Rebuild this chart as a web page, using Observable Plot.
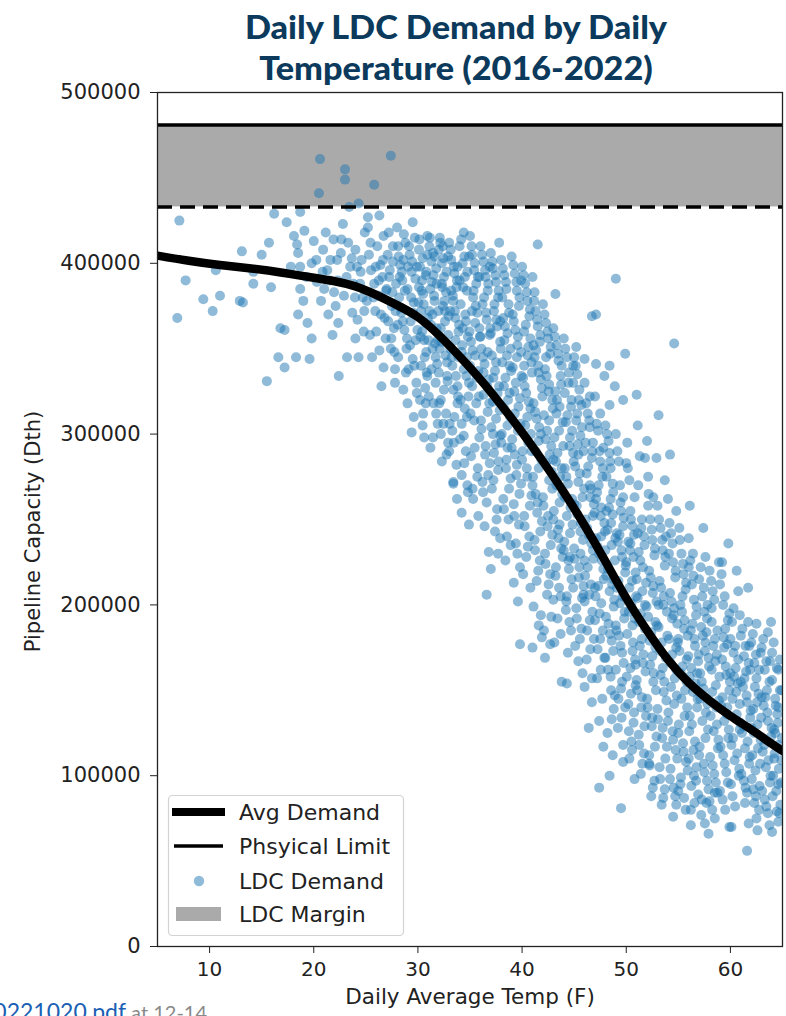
<!DOCTYPE html>
<html><head><meta charset="utf-8">
<script src="https://cdn.jsdelivr.net/npm/d3@7"></script>
<script src="https://cdn.jsdelivr.net/npm/@observablehq/plot@0.6"></script>
<style>
body{margin:0;background:#fff;width:786px;height:1016px;overflow:hidden;position:relative;font-family:"DejaVu Sans",sans-serif}
#title{position:absolute;left:0;top:6px;width:912px;text-align:center;font-family:Lato,"Open Sans",sans-serif;font-weight:900;font-size:32px;line-height:41px;color:#0b3a5c;transform:scaleX(1.07);transform-origin:456px 0}
#chart{position:absolute;left:0;top:80px}
#caption{position:absolute;left:-20px;top:997px;font-family:Lato,sans-serif;font-size:20px;white-space:nowrap;color:#8a8a8a}
#caption .lnk{color:#1a5fb4;font-size:23px}
</style></head><body>
<div id="title">Daily LDC Demand by Daily<br>Temperature (2016-2022)</div>
<div id="chart"></div>
<div id="caption"><span class="lnk">20221020.pdf</span> at 12-14</div>
<script>
// ---- data (temperature °F, demand in thousand Dth) ----
const xTicks = [10, 20, 30, 40, 50, 60];
const yTicks = [0, 100000, 200000, 300000, 400000, 500000];
const xDomain = [5, 65];
const yDomain = [0, 500000];
const physicalLimit = 481000;
const marginFloor = 433000;

const avgDemand = [[5,404.5],[8,401.5],[11,399],[14,397],[17,394.5],[20,391.5],[22,389.5],[24,386.5],[26,381.5],[28,375.5],[30,368.5],[32,358],[34,345.5],[36,332],[38,317],[40,301],[42,284],[44,266],[46,246.5],[48,225.5],[50,204],[52,185],[54,168],[56,154.5],[58,144],[60,135],[62,127],[64,118.5],[65,114.5]];

const ptsCold = [[7.1,425],[6.9,368],[7.7,390],[9.4,379],[10.3,372],[10.6,396],[11.0,381],[13.1,407],[13.2,377],[12.9,378],[14.2,395],[14.2,388],[15.0,405],[15.5,331],[16.2,429],[15.7,412],[16.8,362],[17.2,361],[17.2,339],[17.4,424],[16.6,345],[15.9,386],
[18.1,416],[18.7,430],[18.4,411],[18.5,406],[18.7,398],[18.7,385],[18.5,370],[19.4,365],[18.3,345],[19.6,344],[19.1,419],[20.0,413],[19.3,392],[19.8,400],[17.8,398],[19.0,378],[20.3,389],[19.8,356]];

const pts20s = [[20.6,461],[23.0,455],[23.0,449],[20.5,441],[25.8,446],[27.4,463],[24.3,435],[23.4,433],
[20.9,408],[21.3,396],[21.0,385],[21.8,358],[22.4,334],[22.8,423],[22.6,406],[22.3,390],[22.1,375],[21.6,402],[23.2,345],[23.5,398],[23.8,388],[23.3,412],[24.0,408],[24.3,345],[24.5,395],[24.7,380],[24.2,367],[24.9,418],[24.6,402],[23.7,371],[22.9,381],[21.4,370],[20.7,378],[21.9,414],[24.0,356],[24.8,360],
[25.2,427],[25.2,421],[26.3,428],[26.7,416],[27.6,410],[28.0,421],[28.6,402],[29.5,424],[25.6,345],[26.3,349],[26.7,339],[27.8,338],[26.5,328],[27.8,330],[29.1,338],[29.4,301],[29.9,324],
[25.3,405],[25.5,396],[25.8,388],[25.1,378],[25.9,372],[26.1,410],[26.4,399],[26.6,392],[26.2,381],[26.8,368],[26.9,356],[27.1,405],[27.3,396],[27.0,385],[27.5,375],[27.7,362],[27.4,350],[27.2,418],[28.1,410],[28.3,399],[28.5,390],[28.2,380],[28.4,371],[28.7,361],[28.9,350],[28.1,345],[28.8,412],[29.2,405],[29.4,395],[29.0,385],[29.6,377],[29.3,366],[29.8,355],[29.5,344],[29.7,415],[29.9,398],[28.6,326],[29.0,318],[29.6,310],[27.9,388],[26.0,360],[25.4,358],[27.6,401],
[20.25,402],[20.85,395],[21.15,418],[21.55,390],[21.95,383],[22.25,402],[22.65,414],[22.35,365],[23.15,392],[23.65,403],[23.95,380],[24.45,388],[24.15,398],[24.85,372],[25.45,412],[25.75,380],[25.95,398],[26.25,390],[26.65,402],[26.45,370],[26.95,384],[27.25,392],[27.55,383],[27.85,372],[27.15,366],[27.45,356],[27.75,348]];

const pts30s = [[30.9,416],[32.1,415],[34.4,418],[30.3,340],[31.7,345],[30.6,298],[32.2,300],[32.3,284],[33.4,272],[34.2,276],[30.9,334],[32.2,320],[32.8,334],[33.8,328],[34.7,310],[33.3,302],[34.4,299],[34.9,247],[34.2,254],[33.4,271],
[30.1,408],[30.2,398],[30.4,390],[30.5,382],[30.3,372],[30.7,365],[30.6,355],[30.8,348],[30.2,320],[30.5,312],[30.9,405],[30.8,395],[30.1,386],[30.4,360],[30.7,327],
[31.1,410],[31.3,401],[31.5,393],[31.2,385],[31.6,378],[31.4,370],[31.8,362],[31.0,355],[31.3,338],[31.7,330],[31.5,318],[31.9,306],[31.2,292],[31.6,404],[31.8,388],[31.1,372],[31.4,350],[31.9,355],
[32.0,408],[32.3,400],[32.5,392],[32.7,383],[32.4,375],[32.6,366],[32.9,358],[32.1,350],[32.8,342],[32.5,326],[32.7,312],[32.9,295],[32.4,410],[32.6,372],[32.2,362],[32.9,404],[32.0,336],[32.3,388],
[33.0,412],[33.2,402],[33.5,394],[33.7,386],[33.4,378],[33.6,368],[33.9,360],[33.1,350],[33.3,340],[33.8,318],[33.5,310],[33.0,290],[33.7,282],[33.2,384],[33.6,355],[33.9,345],[33.1,372],[33.4,326],[33.8,398],
[34.0,410],[34.3,400],[34.5,392],[34.7,384],[34.1,376],[34.6,366],[34.8,357],[34.2,348],[34.4,338],[34.9,330],[34.1,320],[34.6,290],[34.8,266],[34.3,362],[34.7,345],[34.0,390],[34.9,404],[34.5,315],[34.2,306],
[36.6,206],[37.0,221],[37.7,230],[39.2,213],[39.6,202],[37.9,239],[38.9,235],[39.8,177],
[35.0,416],[35.2,405],[35.4,396],[35.6,388],[35.3,380],[35.7,371],[35.9,362],[35.1,354],[35.5,346],[35.8,337],[35.2,328],[35.6,318],[35.4,308],[35.9,298],[35.1,287],[35.7,275],[35.3,262],[35.8,252],[35.5,365],[35.0,340],[35.9,392],[35.2,372],
[36.0,410],[36.3,401],[36.5,392],[36.7,384],[36.2,376],[36.6,367],[36.9,358],[36.1,350],[36.4,341],[36.8,332],[36.3,323],[36.7,313],[36.1,303],[36.5,293],[36.9,283],[36.2,272],[36.6,260],[36.4,246],[36.8,231],[36.0,357],[36.9,398],[36.3,336],[36.7,348],
[37.0,406],[37.2,397],[37.5,389],[37.7,380],[37.3,372],[37.6,363],[37.9,354],[37.1,346],[37.4,337],[37.8,328],[37.2,319],[37.5,309],[37.9,299],[37.3,289],[37.7,279],[37.1,268],[37.6,256],[37.4,243],[37.8,412],[37.0,359],[37.5,342],[37.9,366],[37.2,300],
[38.0,402],[38.3,393],[38.5,385],[38.7,376],[38.2,368],[38.6,359],[38.9,350],[38.1,342],[38.4,333],[38.8,324],[38.3,315],[38.6,305],[38.0,295],[38.5,285],[38.9,274],[38.2,262],[38.7,250],[38.4,226],[38.1,380],[38.8,340],[38.3,355],[38.6,292],
[39.0,404],[39.3,394],[39.5,384],[39.7,375],[39.2,366],[39.6,357],[39.9,348],[39.1,339],[39.4,330],[39.8,321],[39.3,312],[39.6,302],[39.0,292],[39.5,282],[39.9,271],[39.2,259],[39.7,247],[39.4,236],[39.8,222],[39.1,370],[39.5,345],[39.9,390],[39.3,288]];

const pts40s = [[41.0,175],[42.2,169],[42.7,177],[43.8,155],[44.3,154],[41.6,188],[41.9,181],[43.7,183],[45.4,167],[41.8,194],[40.8,210],[41.1,199],[43.0,203],[44.3,205],[45.9,206],[41.2,383],[43.2,382],[45.2,351],[44.9,330],[44.1,324],[41.5,411],
[40.0,398],[40.3,388],[40.5,378],[40.7,369],[40.2,360],[40.6,351],[40.9,342],[40.1,333],[40.4,324],[40.8,315],[40.3,305],[40.6,295],[40.0,285],[40.5,275],[40.9,264],[40.2,252],[40.7,240],[40.4,228],[40.1,218],[40.8,356],[40.5,310],[40.2,340],[40.9,290],
[41.0,392],[41.3,372],[41.5,363],[41.7,354],[41.2,345],[41.6,336],[41.9,327],[41.1,318],[41.4,309],[41.8,300],[41.3,290],[41.6,280],[41.0,270],[41.5,260],[41.9,249],[41.2,238],[41.7,226],[41.4,214],[41.8,332],[41.1,352],[41.6,296],[41.3,265],
[42.0,376],[42.3,365],[42.5,356],[42.7,347],[42.2,338],[42.6,329],[42.9,320],[42.1,311],[42.4,302],[42.8,293],[42.3,283],[42.6,273],[42.0,263],[42.5,252],[42.9,241],[42.2,230],[42.7,218],[42.4,206],[42.8,193],[42.1,185],[42.6,308],[42.3,345],[42.9,268],
[43.0,362],[43.3,352],[43.5,343],[43.7,334],[43.2,325],[43.6,316],[43.9,307],[43.1,298],[43.4,289],[43.8,280],[43.3,270],[43.6,260],[43.0,250],[43.5,239],[43.9,228],[43.2,217],[43.7,205],[43.4,192],[43.1,178],[43.8,340],[43.0,285],[43.6,247],[43.3,312],
[44.0,356],[44.3,345],[44.5,336],[44.7,316],[44.2,307],[44.6,298],[44.9,289],[44.1,280],[44.4,271],[44.8,262],[44.3,252],[44.6,242],[44.0,232],[44.5,221],[44.9,210],[44.2,197],[44.7,185],[44.4,172],[44.8,302],[44.1,263],[44.6,228],[44.9,340],
[49.0,391],[47.1,370],[46.7,369],[46.0,344],[47.1,341],[48.4,340],[47.9,334],[48.9,328],[46.5,322],[48.4,317],[47.5,312],[49.9,347],[49.7,320],[48.4,289],[47.8,292],[46.8,295],[48.1,275],[48.7,271],[49.7,263],[50.0,283],[50.3,273],[46.0,152],[46.7,157],[49.7,108],[47.4,93],[49.5,81],[48.8,139],[48.6,133],
[45.0,345],[45.3,335],[45.5,326],[45.7,317],[45.2,308],[45.6,299],[45.9,290],[45.1,281],[45.4,272],[45.8,263],[45.3,253],[45.6,243],[45.0,233],[45.5,222],[45.9,211],[45.2,198],[45.7,186],[45.1,176],[45.8,160],[45.4,288],[45.0,259],[45.6,230],[45.3,312],
[46.0,330],[46.3,312],[46.5,304],[46.7,286],[46.2,277],[46.6,268],[46.9,259],[46.1,250],[46.4,241],[46.8,232],[46.3,222],[46.6,212],[46.0,202],[46.5,191],[46.9,180],[46.2,168],[46.7,143],[46.4,128],[46.8,252],[46.1,295],[46.5,270],[46.0,226],
[47.0,322],[47.3,302],[47.5,284],[47.7,275],[47.2,266],[47.6,257],[47.9,248],[47.1,239],[47.4,230],[47.8,221],[47.3,211],[47.6,201],[47.0,191],[47.5,180],[47.9,169],[47.2,157],[47.7,145],[47.4,132],[47.8,117],[47.1,262],[47.6,240],[47.0,210],
[48.0,305],[48.3,296],[48.5,262],[48.7,253],[48.2,244],[48.6,235],[48.9,226],[48.1,217],[48.4,208],[48.8,199],[48.3,189],[48.6,179],[48.0,169],[48.5,158],[48.9,147],[48.2,125],[48.7,112],[48.4,100],[48.1,255],[48.8,215],[48.5,280],[48.0,232],
[49.0,300],[49.3,284],[49.5,255],[49.7,246],[49.2,237],[49.6,228],[49.9,219],[49.1,210],[49.4,201],[49.8,192],[49.3,182],[49.6,172],[49.0,162],[49.5,151],[49.9,140],[49.2,128],[49.7,118],[49.1,242],[49.8,205],[49.4,270],[49.0,188],[49.6,155]];

const pts50s = [[51.0,323],[53.1,311],[54.2,288],[54.6,353],[51.8,286],[51.3,287],[52.1,275],[52.6,263],[50.8,263],[52.2,107],[54.5,76],[55.0,91],[54.8,83],[52.9,286],[53.7,273],
[50.1,295],[50.4,255],[50.6,246],[50.2,237],[50.7,228],[50.9,219],[50.3,210],[50.5,201],[50.8,192],[50.1,183],[50.6,173],[50.4,163],[50.9,153],[50.2,142],[50.7,131],[50.5,120],[50.3,110],[50.8,98],[50.0,225],[50.6,188],[50.4,236],[50.9,165],
[51.1,305],[51.5,250],[51.7,240],[51.2,231],[51.6,222],[51.9,213],[51.1,204],[51.4,195],[51.8,186],[51.3,176],[51.6,166],[51.0,156],[51.5,146],[51.9,135],[51.2,124],[51.7,113],[51.4,101],[51.1,242],[51.8,200],[51.5,180],[51.0,215],
[52.0,296],[52.3,250],[52.5,238],[52.7,229],[52.2,220],[52.6,211],[52.9,202],[52.1,193],[52.4,184],[52.8,175],[52.3,165],[52.6,155],[52.0,145],[52.5,134],[52.9,123],[52.2,112],[52.7,97],[52.4,88],[52.1,258],[52.8,190],[52.5,170],
[53.0,258],[53.3,245],[53.5,232],[53.7,223],[53.2,214],[53.6,205],[53.9,196],[53.1,187],[53.4,178],[53.8,169],[53.3,159],[53.6,149],[53.0,139],[53.5,128],[53.9,117],[53.2,105],[53.7,92],[53.4,83],[53.8,240],[53.1,200],[53.5,163],
[54.0,262],[54.3,242],[54.5,225],[54.7,216],[54.2,207],[54.6,198],[54.9,189],[54.1,180],[54.4,171],[54.8,162],[54.3,152],[54.6,142],[54.0,132],[54.5,121],[54.9,110],[54.2,98],[54.7,88],[54.1,230],[54.8,175],[54.4,192],
[56.2,71],[57.9,66],[56.7,97],[57.7,84],[58.5,90],[58.2,190],[57.7,184],[59.9,195],[59.8,236],[57.6,228],[56.0,239],[54.8,255],[56.1,258],
[55.1,245],[55.3,230],[55.5,218],[55.7,209],[55.2,200],[55.6,191],[55.9,182],[55.1,173],[55.4,164],[55.8,155],[55.3,145],[55.6,135],[55.0,125],[55.5,114],[55.9,103],[55.2,95],[55.7,80],[55.4,205],[55.0,180],[55.8,168],
[56.0,222],[56.3,212],[56.5,203],[56.7,194],[56.2,185],[56.6,176],[56.9,167],[56.1,158],[56.4,149],[56.8,140],[56.3,130],[56.6,120],[56.0,110],[56.5,100],[56.9,89],[56.2,80],[56.4,230],[56.8,160],[56.1,135],
[57.0,215],[57.3,205],[57.5,196],[57.2,187],[57.6,178],[57.9,169],[57.1,160],[57.4,151],[57.8,142],[57.3,132],[57.6,122],[57.0,112],[57.5,102],[57.9,92],[57.2,77],[57.4,245],[57.8,200],[57.1,145],
[58.0,220],[58.3,208],[58.5,180],[58.7,171],[58.2,162],[58.6,153],[58.9,144],[58.1,135],[58.4,126],[58.8,116],[58.3,106],[58.6,96],[58.0,85],[58.5,75],[58.9,225],[58.2,198],[58.7,130],
[59.0,212],[59.3,200],[59.5,186],[59.7,177],[59.2,168],[59.6,159],[59.9,150],[59.1,141],[59.4,132],[59.8,122],[59.3,112],[59.6,102],[59.0,91],[59.5,80],[59.9,70],[59.2,225],[59.7,140],[59.4,175]];

const pts60s = [[61.6,56],[60.1,70],[62.5,75],[64.0,67],[60.2,88],[61.4,84],[64.7,78],[64.6,73],[64.6,95],[62.2,92],[63.8,167],[64.0,156],[63.6,184],[64.6,162],[62.5,189],[61.8,176],[61.7,190],[60.9,194],[61.7,210],
[60.0,180],[60.3,172],[60.5,163],[60.7,154],[60.2,145],[60.6,136],[60.9,127],[60.1,118],[60.4,109],[60.8,100],[60.3,198],[60.6,220],[60.0,160],[60.9,142],
[61.0,182],[61.3,170],[61.5,161],[61.2,152],[61.6,143],[61.9,134],[61.1,125],[61.4,116],[61.8,107],[61.3,97],[61.6,90],[61.0,155],[61.9,162],
[62.0,178],[62.3,166],[62.5,157],[62.7,148],[62.2,139],[62.6,130],[62.9,121],[62.1,112],[62.4,103],[62.8,94],[62.3,84],[62.6,68],[62.9,172],[62.0,128],
[63.0,175],[63.3,162],[63.5,150],[63.2,141],[63.6,132],[63.9,123],[63.1,114],[63.4,105],[63.8,96],[63.3,86],[63.6,78],[63.0,146],[63.9,190],
[64.0,172],[64.3,145],[64.5,136],[64.2,127],[64.6,118],[64.9,109],[64.1,100],[64.4,91],[64.8,83],[64.3,125],[64.9,150],[64.6,140],[64.2,110]];

const ptsCore = [[28.15,404],[28.45,395],[28.75,384],[28.35,374],[28.55,366],[28.95,356],[28.25,392],[28.65,417],[28.85,336],[28.05,364],
[29.15,410],[29.45,401],[29.75,391],[29.35,380],[29.55,371],[29.95,361],[29.25,352],[29.65,340],[29.85,330],[29.05,398],
[30.15,414],[30.45,403],[30.75,393],[30.35,384],[30.55,376],[30.95,368],[30.25,357],[30.65,345],[30.85,336],[30.05,377],[30.45,305],[30.75,318],
[31.15,415],[31.45,406],[31.75,397],[31.35,389],[31.55,381],[31.95,372],[31.25,364],[31.65,353],[31.85,341],[31.05,322],[31.45,298],[31.75,312],
[32.15,412],[32.45,403],[32.75,395],[32.35,386],[32.55,378],[32.95,369],[32.25,354],[32.65,346],[32.85,331],[32.05,318],[32.45,306],[32.75,288],
[33.15,408],[33.45,398],[33.75,390],[33.35,381],[33.55,372],[33.95,364],[33.25,345],[33.65,334],[33.85,322],[33.05,306],[33.45,295],[33.75,262],
[34.15,414],[34.45,404],[34.75,395],[34.35,386],[34.55,370],[34.95,360],[34.25,352],[34.65,334],[34.85,322],[34.05,297],[34.45,283],[34.75,270],
[35.15,410],[35.45,400],[35.75,392],[35.35,384],[35.55,375],[35.95,357],[35.25,349],[35.65,333],[35.85,322],[35.05,312],[35.45,292],[35.75,280],[35.25,268],
[36.15,405],[36.45,396],[36.75,388],[36.35,380],[36.55,371],[36.95,362],[36.25,345],[36.65,328],[36.85,318],[36.05,308],[36.45,288],[36.75,276],[36.25,266],
[37.15,401],[37.45,393],[37.75,384],[37.35,376],[37.55,367],[37.95,350],[37.25,333],[37.65,324],[37.85,314],[37.05,304],[37.45,294],[37.75,284],[37.25,273],[37.55,250],
[38.15,397],[38.45,389],[38.75,371],[38.35,363],[38.55,346],[38.95,337],[38.25,328],[38.65,320],[38.85,310],[38.05,300],[38.45,280],[38.75,268],[38.25,256],[38.55,240],
[39.15,399],[39.45,389],[39.75,380],[39.35,361],[39.55,352],[39.95,334],[39.25,325],[39.65,316],[39.85,306],[39.05,297],[39.45,276],[39.75,265],[39.25,252],[39.55,230],
[40.15,393],[40.45,383],[40.75,373],[40.35,364],[40.55,346],[40.95,336],[40.25,328],[40.65,319],[40.85,300],[40.05,290],[40.45,280],[40.75,258],[40.25,246],[40.55,234],
[41.15,378],[41.45,367],[41.75,358],[41.35,349],[41.55,340],[41.95,322],[41.25,313],[41.65,304],[41.85,285],[41.05,275],[41.45,254],[41.75,243],[41.25,232],[41.55,220],
[42.15,370],[42.45,360],[42.75,351],[42.35,334],[42.55,325],[42.95,315],[42.25,297],[42.65,288],[42.85,278],[42.05,258],[42.45,246],[42.75,235],[42.25,224],[42.55,212],
[43.15,357],[43.45,347],[43.75,329],[43.35,320],[43.55,302],[43.95,293],[43.25,284],[43.65,275],[43.85,265],[43.05,255],[43.45,244],[43.75,233],[43.25,222],[43.55,210],
[44.15,350],[44.45,330],[44.75,320],[44.35,311],[44.55,293],[44.95,284],[44.25,275],[44.65,257],[44.85,247],[44.05,237],[44.45,226],[44.75,215],[44.25,202],[44.55,190],
[45.15,340],[45.45,320],[45.75,304],[45.35,294],[45.55,277],[45.95,268],[45.25,258],[45.65,248],[45.85,238],[45.05,227],[45.45,216],[45.75,204],[45.25,192],[45.55,180],
[46.15,318],[46.45,308],[46.75,290],[46.35,281],[46.55,263],[46.95,254],[46.25,245],[46.65,236],[46.85,227],[46.05,217],[46.45,206],[46.75,196],[46.25,185],[46.55,174],
[47.15,306],[47.45,290],[47.75,280],[47.35,270],[47.55,252],[47.95,243],[47.25,234],[47.65,226],[47.85,215],[47.05,205],[47.45,195],[47.75,185],[47.25,174],[47.55,162],
[48.15,300],[48.45,284],[48.75,266],[48.35,257],[48.55,248],[48.95,239],[48.25,221],[48.65,212],[48.85,203],[48.05,193],[48.45,183],[48.75,173],[48.25,162],[48.55,150],
[49.15,290],[49.45,260],[49.75,251],[49.35,241],[49.55,232],[49.95,223],[49.25,214],[49.65,205],[49.85,196],[49.05,185],[49.45,176],[49.75,166],[49.25,145],[49.55,134],
[50.15,280],[50.45,250],[50.75,241],[50.35,232],[50.55,214],[50.95,205],[50.25,196],[50.65,178],[50.85,168],[50.05,158],[50.45,148],[50.75,137],[50.25,126],[50.55,115],
[51.15,270],[51.45,245],[51.75,235],[51.35,226],[51.55,208],[51.95,199],[51.25,190],[51.65,171],[51.85,161],[51.05,150],[51.45,140],[51.75,129],[51.25,118],[51.55,107],
[52.15,265],[52.45,244],[52.75,233],[52.35,216],[52.55,207],[52.95,188],[52.25,179],[52.65,160],[52.85,150],[52.05,140],[52.45,129],[52.75,117],[52.25,106],[52.55,93],
[53.15,250],[53.45,238],[53.75,228],[53.35,210],[53.55,200],[53.95,182],[53.25,173],[53.65,155],[53.85,144],[53.05,133],[53.45,122],[53.75,110],[53.25,98],[53.55,87],
[54.15,248],[54.45,236],[54.75,220],[54.35,202],[54.55,194],[54.95,178],[54.25,166],[54.65,157],[54.85,147],[54.05,137],[54.45,126],[54.75,115],[54.25,104],[54.55,93],
[55.15,238],[55.45,224],[55.75,213],[55.35,196],[55.55,186],[55.95,170],[55.25,160],[55.65,150],[55.85,140],[55.05,130],[55.45,119],[55.75,108],[55.25,99],[55.55,87],
[56.15,226],[56.45,217],[56.75,199],[56.35,189],[56.55,180],[56.95,171],[56.25,163],[56.65,154],[56.85,145],[56.05,126],[56.45,115],[56.75,105],[56.25,94],[56.55,84],
[57.15,222],[57.45,210],[57.75,192],[57.35,182],[57.55,173],[57.95,164],[57.25,155],[57.65,137],[57.85,127],[57.05,117],[57.45,107],[57.75,97],[57.25,86],[57.55,72],
[58.15,214],[58.45,203],[58.75,185],[58.35,176],[58.55,167],[58.95,158],[58.25,149],[58.65,140],[58.85,121],[58.05,111],[58.45,101],[58.75,90],[58.25,80],
[59.15,218],[59.45,205],[59.75,191],[59.35,181],[59.55,164],[59.95,155],[59.25,146],[59.65,136],[59.85,127],[59.05,117],[59.45,107],[59.75,96],[59.25,86],
[60.15,190],[60.45,176],[60.75,168],[60.35,158],[60.55,149],[60.95,131],[60.25,122],[60.65,113],[60.85,104],[60.05,95],[60.45,82],[60.75,208],
[61.15,186],[61.45,176],[61.75,166],[61.35,157],[61.55,147],[61.95,138],[61.25,129],[61.65,120],[61.85,111],[61.05,101],[61.45,93],[61.75,72],
[62.15,183],[62.45,171],[62.75,162],[62.35,152],[62.55,143],[62.95,134],[62.25,125],[62.65,116],[62.85,107],[62.05,98],[62.45,88],[62.75,80],
[63.15,180],[63.45,167],[63.75,155],[63.35,146],[63.55,137],[63.95,128],[63.25,118],[63.65,109],[63.85,100],[63.05,91],[63.45,82],[63.75,71],
[64.15,178],[64.45,163],[64.75,150],[64.35,141],[64.55,131],[64.95,122],[64.25,113],[64.65,104],[64.85,96],[64.05,88],[64.45,79],[64.75,168]];

const legendItems = ["Avg Demand", "Phsyical Limit", "LDC Demand", "LDC Margin"];

// ---- build tables ----
const K = 1000;
const points = [...ptsCold, ...pts20s, ...pts30s, ...pts40s, ...pts50s, ...pts60s, ...ptsCore].map(([t, v]) => ({temp: t, demand: v * K}));
const avg = avgDemand.map(([t, v]) => ({temp: t, demand: v * K}));

const fontFam = "DejaVu Sans, sans-serif";
const chart = Plot.plot({
  width: 786, height: 936,
  marginLeft: 157, marginRight: 4, marginTop: 12, marginBottom: 70,
  x: {domain: xDomain},
  y: {domain: yDomain},
  style: {fontFamily: fontFam, fontSize: "19px", color: "#222", background: "transparent", overflow: "visible"},
  marks: [
    Plot.rect([{}], {x1: () => xDomain[0], x2: () => xDomain[1], y1: () => marginFloor, y2: () => physicalLimit, fill: "#aaaaaa"}),
    Plot.dot(points, {x: "temp", y: "demand", r: 5, fill: "#1f77b4", fillOpacity: 0.5, stroke: "none", clip: true}),
    Plot.line(avg, {x: "temp", y: "demand", stroke: "black", strokeWidth: 8.5, curve: "natural", clip: true}),
    Plot.ruleY([physicalLimit], {stroke: "black", strokeWidth: 3.5}),
    Plot.ruleY([marginFloor], {stroke: "black", strokeWidth: 3.5, strokeDasharray: "15,8"}),
    Plot.frame({stroke: "#222", strokeWidth: 1.3}),
    Plot.axisX({ticks: xTicks, tickSize: 7, tickPadding: 8, label: null, fontSize: 20}),
    Plot.axisY({ticks: yTicks, tickSize: 7, tickPadding: 10, tickFormat: d => String(d), label: null, fontSize: 21}),
    Plot.text(["Daily Average Temp (F)"], {frameAnchor: "bottom", dy: 57, fontSize: 21.5, fill: "#222"}),
    Plot.text(["Pipeline Capacity (Dth)"], {frameAnchor: "left", textAnchor: "middle", dx: -124, dy: 12, rotate: -90, fontSize: 21, fill: "#222"})
  ]
});
document.getElementById("chart").appendChild(chart);

// ---- legend ----
const lg = d3.select("body").append("svg").attr("id", "legend")
  .attr("width", 786).attr("height", 1016)
  .style("position", "absolute").style("left", "0px").style("top", "0px").style("pointer-events", "none");
lg.append("rect").attr("x", 168.5).attr("y", 795.5).attr("width", 235).attr("height", 140).attr("rx", 4)
  .attr("fill", "white").attr("fill-opacity", 0.8).attr("stroke", "#d3d3d3").attr("stroke-width", 1.2);
const rowY = [812, 846, 881, 914];
lg.append("line").attr("x1", 172).attr("x2", 225).attr("y1", rowY[0]).attr("y2", rowY[0]).attr("stroke", "black").attr("stroke-width", 8);
lg.append("line").attr("x1", 174).attr("x2", 223).attr("y1", rowY[1]).attr("y2", rowY[1]).attr("stroke", "black").attr("stroke-width", 3.5);
lg.append("circle").attr("cx", 199).attr("cy", rowY[2]).attr("r", 5.2).attr("fill", "#1f77b4").attr("fill-opacity", 0.5);
lg.append("rect").attr("x", 176).attr("y", rowY[3] - 7).attr("width", 45).attr("height", 14).attr("fill", "#aaaaaa");
legendItems.forEach((t, i) => {
  lg.append("text").attr("x", 239).attr("y", rowY[i]).attr("dy", "0.35em")
    .attr("font-family", fontFam).attr("font-size", 22).attr("fill", "#222").text(t);
});
</script></body></html>
